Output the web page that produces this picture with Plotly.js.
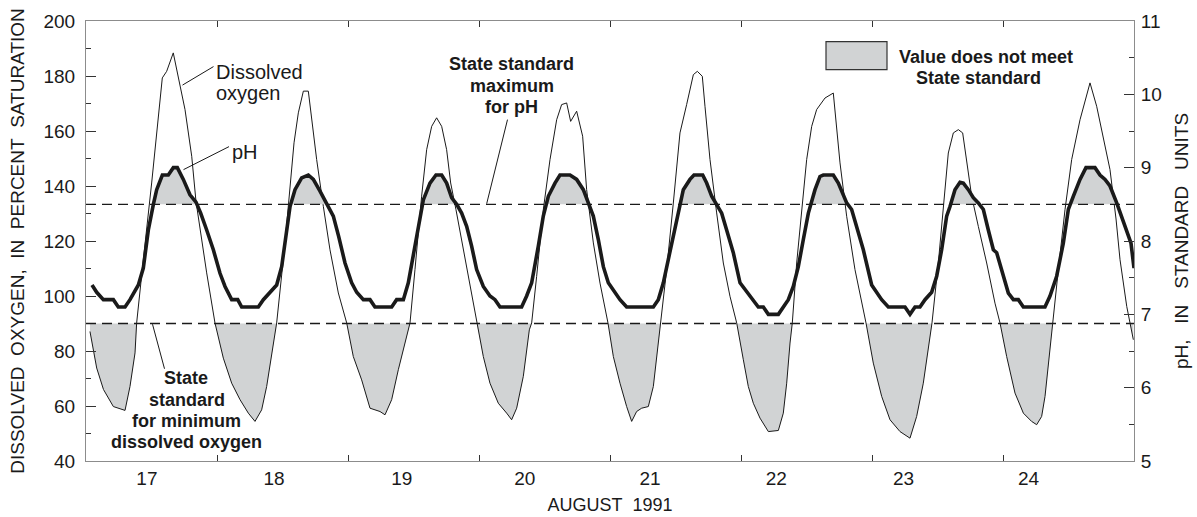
<!DOCTYPE html>
<html>
<head>
<meta charset="utf-8">
<script src="https://cdn.plot.ly/plotly-3.0.1.min.js"></script>
<style>
html,body{margin:0;padding:0;background:#fff;}
#chart{width:1197px;height:517px;}
</style>
</head>
<body>
<div id="chart"></div>
<script>
// ---- DATA (time in hours after 00:00, August 17, 1991) ----
const doHours = [0.73,1.96,3.2,5.01,7.15,8.06,8.98,9.28,10.5,12.03,13.98,14.78,15.99,17.04,18.14,19.37,20.15,22.11,23.63,
25.16,26.69,28.22,29.74,30.96,32.18,33.1,34.02,34.93,36.46,37.38,38.11,38.9,39.82,40.73,41.34,42.26,43.48,44.7,46.23,47.76,
48.97,50.5,52.03,53.86,54.78,56.0,57.22,58.44,59.36,60.27,61.49,62.41,63.33,64.24,65.16,66.07,66.81,67.78,69.13,70.35,71.57,
72.79,74.01,75.54,77.07,77.98,78.9,80.12,81.22,81.65,82.56,83.78,85.01,86.23,87.14,88.06,88.79,89.89,90.99,91.72,92.95,94.17,95.63,
96.61,97.83,99.05,99.97,100.88,101.8,103.02,103.94,104.85,105.28,106.38,107.6,108.82,110.04,111.27,112.0,112.91,113.4,114.32,115.54,116.76,117.98,119.21,
120.43,121.34,122.26,123.48,125.01,126.84,127.75,128.37,128.98,129.4,130.2,131.11,132.03,132.95,133.86,135.39,136.91,138.14,139.36,140.88,142.9,
144.24,145.77,147.3,149.13,150.96,152.18,153.4,154.32,154.99,156.15,157.07,157.98,158.9,159.82,160.61,161.34,162.26,163.48,165.01,166.53,167.45,
168.67,170.2,171.73,173.24,174.17,175.08,175.7,176.31,177.1,178.14,179.36,180.58,182.11,183.94,185.16,186.38,187.6,188.71,189.44,190.67,191.88];
const doValues = [87.1,73.8,66.0,59.8,58.4,67.1,79.3,90.2,113.2,141.1,179.3,181.7,188.4,178.7,167.8,150.8,134.4,108.4,90.2,
77.4,68.3,62.3,57.4,54.4,58.6,67.1,79.3,90.2,119.3,141.1,155.7,166.6,174.5,174.5,164.1,149.6,132.6,116.8,101.1,90.2,
78.0,69.5,59.2,58.0,56.8,62.3,73.2,82.9,90.2,109.6,136.3,153.2,161.7,164.8,161.7,153.2,141.1,131.4,116.8,103.5,90.2,
78.0,68.3,61.0,57.4,55.0,59.2,70.8,87.7,90.2,107.1,131.4,149.6,164.1,169.6,170.2,163.5,167.2,158.1,138.7,119.3,104.7,90.2,
78.0,68.3,59.8,54.4,58.0,59.2,59.8,67.1,82.9,90.2,109.6,133.8,159.3,169.6,180.5,181.7,179.9,169.0,149.6,130.2,112.0,99.9,90.2,
76.8,67.1,61.0,55.6,50.7,51.1,57.4,68.3,82.9,90.2,112.0,131.4,149.6,161.7,167.8,172.0,173.8,148.4,129.0,109.6,90.2,
75.6,63.5,55.0,50.7,48.3,56.2,68.3,80.5,90.2,112.0,131.4,152.0,159.3,160.5,159.3,148.4,136.3,125.3,112.0,97.4,90.2,
78.0,64.7,57.4,54.4,53.2,56.2,63.5,75.6,90.2,109.6,131.4,149.6,164.1,177.5,169.0,158.1,146.0,128.0,113.2,96.2,84.1];

const phHours = [1.1,1.96,3.18,5.01,5.92,7.15,8.06,9.59,10.5,11.42,12.34,12.95,13.99,15.08,16.0,16.73,17.83,19.05,20.15,21.01,22.11,23.33,
24.55,25.47,26.69,27.8,28.52,31.57,32.49,33.71,34.93,35.85,36.76,37.38,38.29,39.51,40.73,41.65,42.87,44.09,45.31,46.3,47.45,
48.67,49.59,50.81,52.03,52.94,56.0,56.91,58.14,59.05,59.97,60.88,61.8,63.02,64.12,65.16,66.07,66.99,67.91,68.82,69.74,70.65,71.57,
72.79,74.01,74.93,75.85,79.81,80.73,81.65,82.26,82.87,83.78,84.7,85.92,86.84,88.67,89.89,91.11,92.03,92.94,93.86,94.78,95.69,
96.91,97.83,99.05,103.94,104.85,105.77,106.69,107.6,108.52,109.43,110.65,111.39,112.98,113.71,114.63,115.54,116.46,117.37,118.59,119.82,
120.73,121.95,123.17,124.09,125.01,126.84,127.75,128.67,129.58,130.5,131.42,132.34,133.56,134.47,135.08,136.91,137.83,138.75,139.36,140.27,141.19,142.41,
143.94,144.85,145.77,146.99,150.04,150.96,151.88,152.79,153.71,154.93,155.85,156.76,157.68,158.29,159.2,160.12,160.73,161.65,162.56,163.48,164.4,165.31,166.23,166.84,
168.06,168.98,169.9,170.81,171.73,175.69,176.61,177.83,179.05,179.97,180.88,182.11,183.2,184.85,185.77,186.69,187.6,188.83,190.36,191.45,192.0];
const phValues = [7.4,7.3,7.2,7.2,7.1,7.1,7.2,7.4,7.63,8.15,8.5,8.7,8.9,8.9,9.0,9.0,8.84,8.63,8.53,8.38,8.15,7.88,
7.56,7.38,7.2,7.2,7.1,7.1,7.2,7.3,7.4,7.65,8.15,8.47,8.7,8.86,8.9,8.84,8.68,8.52,8.34,8.06,7.7,
7.43,7.3,7.2,7.2,7.1,7.1,7.2,7.2,7.43,7.79,8.2,8.56,8.79,8.9,8.9,8.79,8.59,8.5,8.38,8.2,7.93,7.61,
7.38,7.25,7.2,7.1,7.1,7.25,7.43,7.65,7.93,8.34,8.61,8.79,8.9,8.9,8.84,8.7,8.52,8.34,8.02,7.65,7.43,
7.29,7.2,7.1,7.1,7.2,7.43,7.75,8.06,8.43,8.7,8.84,8.9,8.9,8.79,8.61,8.5,8.38,8.15,7.84,7.43,
7.34,7.22,7.1,7.1,7.0,7.0,7.1,7.2,7.38,7.65,8.02,8.38,8.7,8.88,8.9,8.9,8.79,8.61,8.52,8.43,8.2,7.88,
7.4,7.3,7.2,7.1,7.1,7.0,7.1,7.1,7.2,7.3,7.52,7.88,8.34,8.47,8.7,8.8,8.79,8.7,8.59,8.52,8.43,8.15,7.88,7.84,
7.52,7.29,7.2,7.2,7.1,7.1,7.25,7.52,7.97,8.43,8.61,8.84,9.0,9.0,8.9,8.84,8.75,8.52,8.2,7.97,7.63];

const doStandardMin = 90;     // percent saturation
const phStandardMax = 8.5;    // standard units
const dayTickPositions = [17,18,19,20,21,22,23,24,25];
const dayLabels = ['17','18','19','20','21','22','23','24'];
const dayLabelPositions = [17.465,18.435,19.41,20.35,21.305,22.27,23.24,24.195];

// ---- helpers ----
const toDay = h => 17 + h / 24;
const doX = doHours.map(toDay);
const phX = phHours.map(toDay);

function clipToThreshold(xs, ys, thr, keepBelow) {
  const ox = [], oy = [];
  for (let i = 0; i < xs.length; i++) {
    if (i > 0) {
      const y0 = ys[i-1], y1 = ys[i];
      if ((y0 - thr) * (y1 - thr) < 0) {
        const t = (thr - y0) / (y1 - y0);
        ox.push(xs[i-1] + t * (xs[i] - xs[i-1]));
        oy.push(thr);
      }
    }
    ox.push(xs[i]);
    oy.push(keepBelow ? Math.min(ys[i], thr) : Math.max(ys[i], thr));
  }
  return {x: ox, y: oy};
}
const doClip = clipToThreshold(doX, doValues, doStandardMin, true);
const phClip = clipToThreshold(phX, phValues, phStandardMax, false);

const FILL = '#d1d3d4';
const INK = '#1a1a1a';
const FONT = 'Liberation Sans, Arial, Helvetica, sans-serif';
const NB = '\u00a0';

// pixel helpers for annotation placement (plot area 86..1134 x 21..461)
const px2x = px => 17 + (px - 86) / 131;
const px2y = py => 40 + (461.2 - py) / 2.7485;

const traces = [
  {x: [doClip.x[0], doClip.x[doClip.x.length-1]], y: [doStandardMin, doStandardMin], mode: 'lines',
   line: {width: 0, color: 'rgba(0,0,0,0)'}, hoverinfo: 'skip', showlegend: false},
  {x: doClip.x, y: doClip.y, mode: 'lines', fill: 'tonexty', fillcolor: FILL,
   line: {width: 0, color: 'rgba(0,0,0,0)'}, hoverinfo: 'skip', showlegend: false},
  {x: [phClip.x[0], phClip.x[phClip.x.length-1]], y: [phStandardMax, phStandardMax], yaxis: 'y2', mode: 'lines',
   line: {width: 0, color: 'rgba(0,0,0,0)'}, hoverinfo: 'skip', showlegend: false},
  {x: phClip.x, y: phClip.y, yaxis: 'y2', mode: 'lines', fill: 'tonexty', fillcolor: FILL,
   line: {width: 0, color: 'rgba(0,0,0,0)'}, hoverinfo: 'skip', showlegend: false},
  {x: doX, y: doValues, mode: 'lines', name: 'Dissolved oxygen',
   line: {color: INK, width: 1}, showlegend: false},
  {x: phX, y: phValues, yaxis: 'y2', mode: 'lines', name: 'pH',
   line: {color: INK, width: 3.6, shape: 'linear'}, showlegend: false},
  {x: dayLabelPositions, y: dayLabelPositions.map(() => doStandardMin), xaxis: 'x2', mode: 'none',
   hoverinfo: 'skip', showlegend: false}
];

function ann(text, px, py, xanchor, size) {
  return {text: text, x: px2x(px), y: px2y(py), xref: 'x', yref: 'y', xanchor: xanchor, yanchor: 'middle',
          showarrow: false, borderpad: 0, font: {family: FONT, size: size, color: INK}};
}
function boldAnn(text, px, py) {
  return ann('<b>' + text + '</b>', px, py, 'center', 18);
}
function leader(x0, y0, x1, y1) {
  return {type: 'line', xref: 'x', yref: 'y', x0: px2x(x0), y0: px2y(y0), x1: px2x(x1), y1: px2y(y1),
          line: {color: INK, width: 1}};
}

const layout = {
  width: 1197, height: 517,
  margin: {l: 86, r: 63, t: 21, b: 56, pad: 0},
  paper_bgcolor: '#fff', plot_bgcolor: '#fff',
  showlegend: false,
  font: {family: FONT, color: INK},
  xaxis: {
    range: [17, 25], tickmode: 'array', tickvals: dayTickPositions, showticklabels: false,
    ticks: 'inside', ticklen: 6, tickwidth: 1, tickcolor: '#333',
    showline: true, linecolor: '#8c8c8c', linewidth: 1, mirror: 'ticks',
    showgrid: false, zeroline: false, fixedrange: true
  },
  xaxis2: {
    overlaying: 'x', anchor: 'y', side: 'bottom', range: [17, 25],
    tickmode: 'array', tickvals: dayLabelPositions, ticktext: dayLabels,
    ticks: '', showline: false, showgrid: false, zeroline: false,
    ticklabelstandoff: 4,
    tickfont: {family: FONT, size: 19, color: INK},
    title: {text: 'AUGUST' + NB + NB + '1991', font: {family: FONT, size: 18, color: INK}, standoff: 10},
    fixedrange: true
  },
  yaxis: {
    range: [40, 200], tickmode: 'linear', tick0: 40, dtick: 20,
    ticks: 'inside', ticklen: 10, tickwidth: 1, tickcolor: '#333',
    minor: {dtick: 10, tick0: 40, ticks: 'inside', ticklen: 5, tickwidth: 1, tickcolor: '#333', showgrid: false},
    showline: true, linecolor: '#8c8c8c', linewidth: 1, mirror: false,
    showgrid: false, zeroline: false,
    ticklabelstandoff: 6,
    tickfont: {family: FONT, size: 19, color: INK},
    title: {text: 'DISSOLVED' + NB + NB + 'OXYGEN,' + NB + NB + 'IN' + NB + NB + 'PERCENT' + NB + NB + 'SATURATION',
            font: {family: FONT, size: 19, color: INK}, standoff: 13},
    fixedrange: true
  },
  yaxis2: {
    overlaying: 'y', side: 'right', anchor: 'x', range: [5, 11], tickmode: 'linear', tick0: 5, dtick: 1,
    ticks: 'inside', ticklen: 10, tickwidth: 1, tickcolor: '#333',
    minor: {dtick: 0.5, tick0: 5, ticks: 'inside', ticklen: 5, tickwidth: 1, tickcolor: '#333', showgrid: false},
    showline: true, linecolor: '#8c8c8c', linewidth: 1,
    showgrid: false, zeroline: false,
    ticklabelstandoff: 2,
    tickfont: {family: FONT, size: 19, color: INK},
    title: {text: 'pH,' + NB + NB + NB + 'IN' + NB + NB + NB + 'STANDARD' + NB + NB + NB + 'UNITS',
            font: {family: FONT, size: 19, color: INK}, standoff: 13},
    fixedrange: true
  },
  shapes: [
    {type: 'line', xref: 'paper', x0: 0, x1: 1, yref: 'y', y0: doStandardMin, y1: doStandardMin,
     line: {color: INK, width: 1.3, dash: '10px,6px'}},
    {type: 'line', xref: 'paper', x0: 0, x1: 1, yref: 'y2', y0: phStandardMax, y1: phStandardMax,
     line: {color: INK, width: 1.3, dash: '10px,6px'}},
    {type: 'rect', xref: 'x', yref: 'y', x0: px2x(826), x1: px2x(887), y0: px2y(42), y1: px2y(70),
     fillcolor: FILL, line: {color: '#333', width: 1.2}},
    leader(213.5, 67, 182.5, 85.5),
    leader(229, 147, 183.5, 170),
    leader(507.5, 120, 486.7, 204),
    leader(164.5, 369, 152.5, 324.5)
  ],
  annotations: [
    ann('Dissolved', 215, 72.5, 'left', 20),
    ann('oxygen', 215, 93, 'left', 20),
    ann('pH', 230.5, 152.5, 'left', 20),
    boldAnn('State standard', 511.5, 64.5),
    boldAnn('maximum', 511.5, 86),
    boldAnn('for pH', 511, 107),
    boldAnn('State', 186, 378),
    boldAnn('standard', 186.5, 399.8),
    boldAnn('for minimum', 186, 421.3),
    boldAnn('dissolved oxygen', 186, 442.5),
    boldAnn('Value does not meet', 986, 57.8),
    boldAnn('State standard', 978, 78.8)
  ]
};

Plotly.newPlot('chart', traces, layout, {staticPlot: true, displayModeBar: false});
</script>
</body>
</html>
